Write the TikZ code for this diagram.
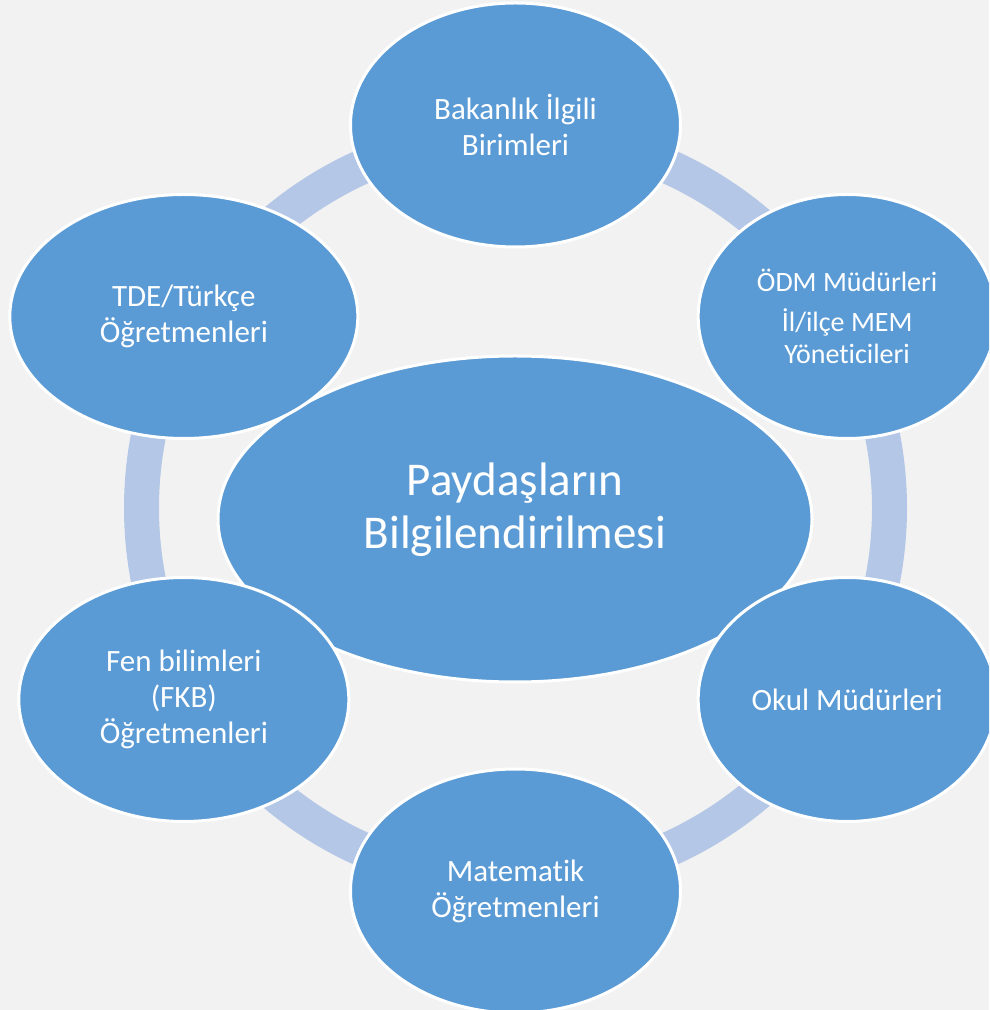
\documentclass[tikz,border=0pt]{standalone}
\usepackage{fontspec}
\setmainfont{Carlito}[Ligatures=NoCommon]
\usetikzlibrary{shapes.geometric}
\definecolor{bgray}{HTML}{F2F2F2}
\definecolor{accent}{HTML}{5B9BD5}
\definecolor{ringblue}{HTML}{B4C7E7}

\begin{document}
\begin{tikzpicture}[
  x=1pt,y=1pt,
  hub/.style={ellipse,draw=white,line width=3pt,fill=accent,text=white,
    minimum width=594pt,minimum height=326pt,inner sep=0pt,align=center,
    font=\fontsize{47}{53}\selectfont},
  sat/.style={ellipse,draw=white,line width=3pt,fill=accent,text=white,
    minimum width=330pt,minimum height=244pt,inner sep=0pt,align=center,
    font=\fontsize{31}{36}\selectfont},
  ring/.style={draw=ringblue,line width=35pt}
  ]
  \fill[bgray] (0,0) rectangle (989,1010);
  \clip (0,0) rectangle (989,1010);

  \coordinate (NRing) at (515.5,502);
  \draw[ring] (NRing) circle[radius=374pt];

  \node[hub,text depth=26pt] (NHub) at (515,491) {Paydaşların\\Bilgilendirilmesi};

  \path (NRing) ++(90:383) node[sat] (NTop) {Bakanlık İlgili\\Birimleri};
  \path (NRing) ++(30:383) node[sat,minimum width=298pt,
    font=\fontsize{28}{32}\selectfont] (NTopR)
    {ÖDM Müdürleri\\[8pt]İl/ilçe MEM\\Yöneticileri};
  \path (NRing) ++(-30:383) node[sat,minimum width=298pt] (NBotR) {Okul Müdürleri};
  \path (NRing) ++(-90:383) node[sat] (NBot) {Matematik\\Öğretmenleri};
  \path (NRing) ++(-150:383) node[sat] (NBotL) {Fen bilimleri\\(FKB)\\Öğretmenleri};
  \path (NRing) ++(150:383) node[sat,minimum width=348pt] (NTopL) {TDE/Türkçe\\Öğretmenleri};
\end{tikzpicture}
\end{document}
